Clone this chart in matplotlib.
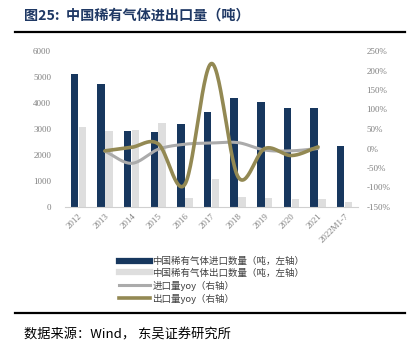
import matplotlib.pyplot as plt
import numpy as np
from matplotlib.lines import Line2D

# data
categories = ["2012", "2013", "2014", "2015", "2016", "2017", "2018", "2019", "2020", "2021", "2022M1-7"]
import_qty = [5100, 4720, 2920, 2880, 3200, 3650, 4200, 4030, 3800, 3800, 2360]
export_qty = [3065, 2920, 2975, 3220, 345, 1080, 385, 360, 300, 310, 200]
# yoy series start in 2013 and end in 2021 (fractions)
import_yoy = [-0.07, -0.38, -0.02, 0.11, 0.14, 0.15, -0.04, -0.06, 0.00]
export_yoy = [-0.06, 0.03, 0.12, -0.92, 2.18, -0.73, 0.00, -0.18, 0.04]

NAVY = "#17375E"
LIGHT = "#DEDEDE"
GRAY = "#ABABAB"
OLIVE = "#938953"
TICK = "#808080"

plt.rcParams['font.family'] = ['Noto Sans CJK SC', 'DejaVu Sans']


def smooth(xs, ys, n=30):
    """Catmull-Rom curve through the points, like Excel's smoothed line."""
    xs = np.asarray(xs, float)
    ys = np.asarray(ys, float)
    px = np.concatenate([[2 * xs[0] - xs[1]], xs, [2 * xs[-1] - xs[-2]]])
    py = np.concatenate([[2 * ys[0] - ys[1]], ys, [2 * ys[-1] - ys[-2]]])
    out_x, out_y = [], []
    t = np.linspace(0, 1, n)
    for i in range(1, len(px) - 2):
        for p, out in ((px, out_x), (py, out_y)):
            p0, p1, p2, p3 = p[i - 1], p[i], p[i + 1], p[i + 2]
            out.extend(0.5 * ((2 * p1) + (-p0 + p2) * t
                              + (2 * p0 - 5 * p1 + 4 * p2 - p3) * t ** 2
                              + (-p0 + 3 * p1 - 3 * p2 + p3) * t ** 3))
    return np.array(out_x), np.array(out_y)


W, H = 413, 354
fig = plt.figure(figsize=(W / 100, H / 100), dpi=100, facecolor='white')

# title and rules
fig.text(24 / W, 1 - 16 / H, "图25:  中国稀有气体进出口量（吨）", fontsize=10.2,
         fontweight='bold', color="#1F3864", va='center', ha='left')
fig.add_artist(Line2D([15 / W, 405 / W], [1 - 32 / H] * 2, color='black', lw=1.6))
fig.add_artist(Line2D([15 / W, 405 / W], [1 - 313 / H] * 2, color='black', lw=1.6))
fig.text(24 / W, 1 - 335 / H, "数据来源：Wind， 东吴证券研究所", fontsize=9.5,
         color='black', va='center', ha='left')

ax = fig.add_axes([65 / W, 1 - 207 / H, (358 - 65) / W, (207 - 51) / H])
x = np.arange(len(categories))
bw = 0.28
ax.bar(x - 0.15, import_qty, width=bw, color=NAVY, zorder=2)
ax.bar(x + 0.15, export_qty, width=bw, color=LIGHT, zorder=2)
ax.set_xlim(-0.5, len(categories) - 0.5)
ax.set_ylim(0, 6000)
ax.set_yticks(np.arange(0, 6001, 1000))
ax.set_xticks(x)
ax.set_xticklabels(categories, rotation=45, ha='right', va='top',
                   rotation_mode='anchor', family='Liberation Serif')
for s in ['top', 'left', 'right']:
    ax.spines[s].set_visible(False)
ax.spines['bottom'].set_color("#D0D0D0")
ax.tick_params(axis='both', length=0, labelsize=6.5, colors=TICK, pad=4)
ax.tick_params(axis='y', pad=10)
for lab in ax.get_yticklabels():
    lab.set_family('Liberation Serif')

ax2 = ax.twinx()
ax2.set_ylim(-1.5, 2.5)
ax2.set_yticks(np.arange(-1.5, 2.51, 0.5))
ax2.set_yticklabels([f"{int(round(v * 100))}%" for v in np.arange(-1.5, 2.51, 0.5)],
                    family='Liberation Serif')
ax2.tick_params(axis='y', length=0, labelsize=6.5, colors=TICK, pad=6)
for s in ax2.spines.values():
    s.set_visible(False)

yx = x[1:10]
sx, sy = smooth(yx, import_yoy)
ax2.plot(sx, sy, color=GRAY, lw=2.2, solid_capstyle='round', zorder=3)
sx, sy = smooth(yx, export_yoy)
ax2.plot(sx, sy, color=OLIVE, lw=2.6, solid_capstyle='round', zorder=4)

handles = [
    Line2D([], [], color=NAVY, lw=4.5),
    Line2D([], [], color=LIGHT, lw=4.5),
    Line2D([], [], color=GRAY, lw=2.2),
    Line2D([], [], color=OLIVE, lw=2.6),
]
labels = ["中国稀有气体进口数量（吨，左轴）", "中国稀有气体出口数量（吨，左轴）",
          "进口量yoy（右轴）", "出口量yoy（右轴）"]
fig.legend(handles, labels, loc='upper left', bbox_to_anchor=(114 / W, 1 - 252 / H),
           frameon=False, fontsize=6.8, handlelength=3.3, handletextpad=0.25,
           labelspacing=0.3, borderpad=0, labelcolor="#404040")

fig.savefig("out.png", dpi=100, facecolor='white')
